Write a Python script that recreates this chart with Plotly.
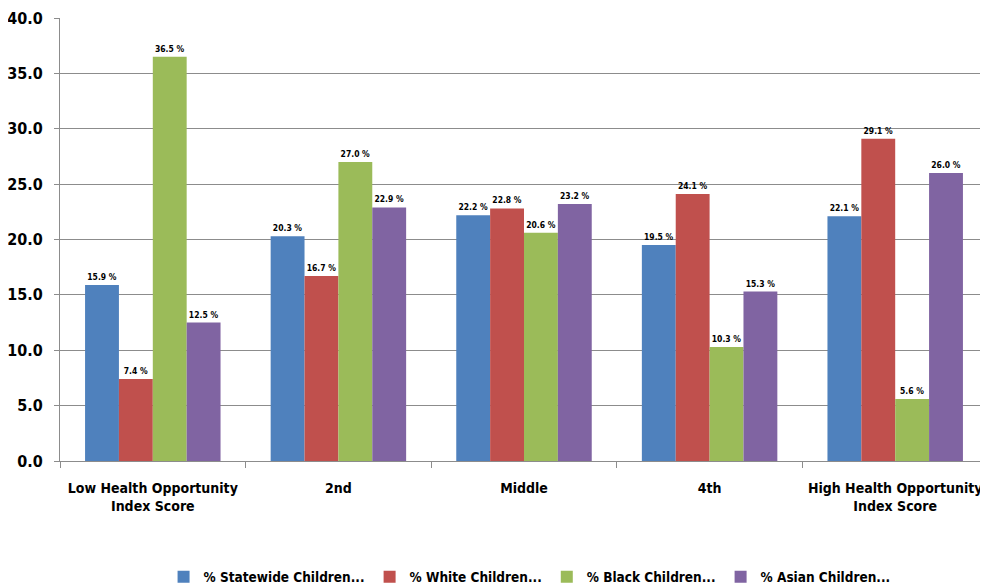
import plotly.graph_objects as go

categories = ["Low Health Opportunity<br>Index Score", "2nd", "Middle", "4th", "High Health Opportunity<br>Index Score"]
series_names = ["% Statewide Children...", "% White Children...", "% Black Children...", "% Asian Children..."]
statewide = [15.9, 20.3, 22.2, 19.5, 22.1]
white = [7.4, 16.7, 22.8, 24.1, 29.1]
black = [36.5, 27.0, 20.6, 10.3, 5.6]
asian = [12.5, 22.9, 23.2, 15.3, 26.0]
colors = ["#4F81BD", "#C0504D", "#9BBB59", "#8064A2"]

FONT = "DejaVu Sans Condensed, Liberation Sans Narrow, sans-serif"

fig = go.Figure()
for name, vals, col in zip(series_names, [statewide, white, black, asian], colors):
    fig.add_trace(go.Bar(
        x=categories, y=vals, name=name, marker=dict(color=col, line=dict(width=0)),
        text=[f"{v:.1f} %" for v in vals], textposition="outside",
        textfont=dict(family=FONT, size=8.5, color="black", weight="bold"),
        cliponaxis=False,
    ))

fig.update_layout(
    width=980, height=580,
    barmode="group", bargap=0.27, bargroupgap=0,
    plot_bgcolor="white", paper_bgcolor="white",
    margin=dict(l=52, r=0, t=10, b=127, autoexpand=False),
    font=dict(family=FONT, color="black", weight="bold"),
    legend=dict(orientation="h", x=0.506, xanchor="center", y=-0.262, yanchor="middle",
                font=dict(family=FONT, size=13.5, color="black", weight="bold"), traceorder="normal",
                itemwidth=30),
    uniformtext=dict(minsize=8, mode="show"),
)
fig.update_yaxes(range=[0, 40], dtick=5,
                 tickformat=".1f", showgrid=True, gridcolor="#8c8c8c",
                 gridwidth=1, showline=True, linecolor="#8c8c8c", ticks="outside", ticklen=5,
                 tickcolor="#8c8c8c", ticklabelstandoff=8,
                 tickfont=dict(family=FONT, size=16, color="black", weight="bold"),
                 zeroline=False, automargin=False)
fig.update_xaxes(showline=True, linecolor="#8c8c8c", ticks="outside", ticklen=6, tickcolor="#8c8c8c",
                 tickson="boundaries", tickangle=0, automargin=False, ticklabelstandoff=14,
                 tickfont=dict(family=FONT, size=14, color="black", weight="bold"))

fig.write_html("out.html")
